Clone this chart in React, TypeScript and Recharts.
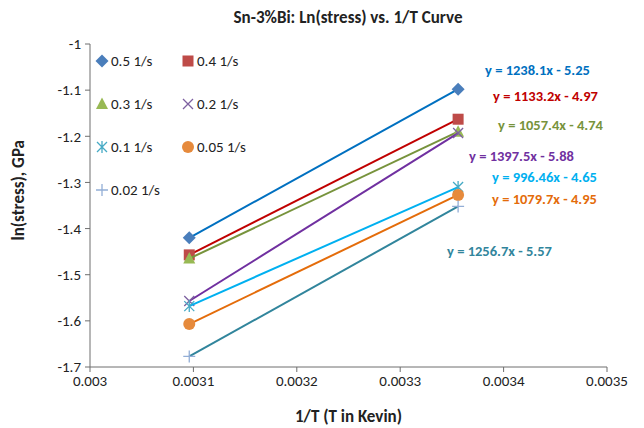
import React from "react";
import { ScatterChart, Scatter, XAxis, YAxis } from "recharts";

const FONT = "Calibri, Carlito, Lato, 'Liberation Sans', sans-serif";

const xPoints = [0.003096, 0.003356];
const xTicks = [0.003, 0.0031, 0.0032, 0.0033, 0.0034, 0.0035];
const yTicks = [-1.7, -1.6, -1.5, -1.4, -1.3, -1.2, -1.1, -1];

const rate05 = [-1.42, -1.098];
const rate04 = [-1.457, -1.163];
const rate03 = [-1.465, -1.19];
const rate02 = [-1.557, -1.193];
const rate01 = [-1.568, -1.31];
const rate005 = [-1.607, -1.327];
const rate002 = [-1.677, -1.352];

type MarkerKind = "diamond" | "square" | "triangle" | "x" | "star" | "circle" | "plus";

const SERIES: { name: string; values: number[]; marker: MarkerKind; fill: string; line: string; eq: string }[] = [
  { name: "0.5 1/s", values: rate05, marker: "diamond", fill: "#4a7ebb", line: "#0070c0", eq: "y = 1238.1x - 5.25" },
  { name: "0.4 1/s", values: rate04, marker: "square", fill: "#be4b48", line: "#c00000", eq: "y = 1133.2x - 4.97" },
  { name: "0.3 1/s", values: rate03, marker: "triangle", fill: "#98b954", line: "#77933c", eq: "y = 1057.4x - 4.74" },
  { name: "0.2 1/s", values: rate02, marker: "x", fill: "#7d60a0", line: "#7030a0", eq: "y = 1397.5x - 5.88" },
  { name: "0.1 1/s", values: rate01, marker: "star", fill: "#46aac5", line: "#00b0f0", eq: "y = 996.46x - 4.65" },
  { name: "0.05 1/s", values: rate005, marker: "circle", fill: "#e68a3c", line: "#e46c0a", eq: "y = 1079.7x - 4.95" },
  { name: "0.02 1/s", values: rate002, marker: "plus", fill: "#93aed6", line: "#31859c", eq: "y = 1256.7x - 5.57" },
];

// equation label anchors (left edge, vertical centre) in pixels
const EQ_POS: [number, number][] = [
  [485, 70], [493, 96], [498, 125], [469, 156], [492, 177], [492, 199], [447, 251],
];

function Marker({ kind, cx, cy, color }: { kind: MarkerKind; cx: number; cy: number; color: string }) {
  switch (kind) {
    case "diamond":
      return <path d={`M${cx},${cy - 6.5}L${cx + 6.5},${cy}L${cx},${cy + 6.5}L${cx - 6.5},${cy}Z`} fill={color} />;
    case "square":
      return <rect x={cx - 5.5} y={cy - 5.5} width={11} height={11} fill={color} />;
    case "triangle":
      return <path d={`M${cx},${cy - 6.5}L${cx + 6},${cy + 5}L${cx - 6},${cy + 5}Z`} fill={color} />;
    case "x":
      return <path d={`M${cx - 5},${cy - 5}L${cx + 5},${cy + 5}M${cx + 5},${cy - 5}L${cx - 5},${cy + 5}`} stroke={color} strokeWidth={1.3} />;
    case "star":
      return (
        <path
          d={`M${cx - 5},${cy - 5}L${cx + 5},${cy + 5}M${cx + 5},${cy - 5}L${cx - 5},${cy + 5}M${cx},${cy - 6}L${cx},${cy + 6}`}
          stroke={color}
          strokeWidth={1.3}
        />
      );
    case "circle":
      return <circle cx={cx} cy={cy} r={6} fill={color} />;
    case "plus":
      return <path d={`M${cx - 6},${cy}L${cx + 6},${cy}M${cx},${cy - 6}L${cx},${cy + 6}`} stroke={color} strokeWidth={1.3} />;
  }
}

function LegendBox() {
  return (
    <div style={{ display: "grid", gridTemplateColumns: "86px 100px", rowGap: 21, fontSize: 15, color: "#222" }}>
      {SERIES.map((s) => (
        <div key={s.name} style={{ display: "flex", alignItems: "center", height: 22 }}>
          <svg width={14} height={14} style={{ marginRight: 2 }}>
            <Marker kind={s.marker} cx={7} cy={7} color={s.fill} />
          </svg>
          <span>{s.name}</span>
        </div>
      ))}
    </div>
  );
}

export default function App() {
  return (
    <div style={{ position: "absolute", left: 0, top: 0, width: 644, height: 428, background: "#fff", fontFamily: FONT }}>
      <ScatterChart width={644} height={428} margin={{ top: 44, right: 37, bottom: 0, left: 0 }}>
        <XAxis
          type="number"
          dataKey="x"
          domain={[0.003, 0.0035]}
          ticks={xTicks}
          interval={0}
          tickFormatter={(v: number) => String(v)}
          tick={{ fontSize: 15, fill: "#222", fontFamily: FONT }}
          tickSize={5}
          tickMargin={3}
          stroke="#6e6e6e"
          height={61}
          label={{ value: "1/T (T in Kevin)", position: "insideBottom", offset: 6, style: { fontSize: 17, fontWeight: 700, fill: "#222", fontFamily: FONT } }}
        />
        <YAxis
          type="number"
          dataKey="y"
          domain={[-1.7, -1]}
          ticks={yTicks}
          interval={0}
          tickFormatter={(v: number) => String(v)}
          tick={{ fontSize: 15, fill: "#222", fontFamily: FONT }}
          tickSize={5}
          tickMargin={4}
          stroke="#6e6e6e"
          width={90}
          label={{ value: "ln(stress), GPa", angle: -90, position: "insideLeft", offset: 18, dy: 35, style: { fontSize: 17, fontWeight: 700, fill: "#222", fontFamily: FONT } }}
        />
        {SERIES.map((s) => (
          <Scatter
            key={s.name}
            name={s.name}
            data={xPoints.map((x, i) => ({ x, y: s.values[i] }))}
            line={{ stroke: s.line, strokeWidth: 2 }}
            shape={(p: any) => <Marker kind={s.marker} cx={p.cx} cy={p.cy} color={s.fill} />}
            isAnimationActive={false}
          />
        ))}
      </ScatterChart>
      <div style={{ position: "absolute", left: 95, top: 50 }}>
        <LegendBox />
      </div>
      <div style={{ position: "absolute", left: 0, top: 7, width: 696, textAlign: "center", fontSize: 17, fontWeight: 700, color: "#222" }}>
        Sn-3%Bi: Ln(stress) vs. 1/T Curve
      </div>
      {SERIES.map((s, i) => (
        <div
          key={s.eq}
          style={{ position: "absolute", left: EQ_POS[i][0], top: EQ_POS[i][1] - 9, lineHeight: "18px", fontSize: 14.5, fontWeight: 700, color: s.line, whiteSpace: "nowrap" }}
        >
          {s.eq}
        </div>
      ))}
    </div>
  );
}
